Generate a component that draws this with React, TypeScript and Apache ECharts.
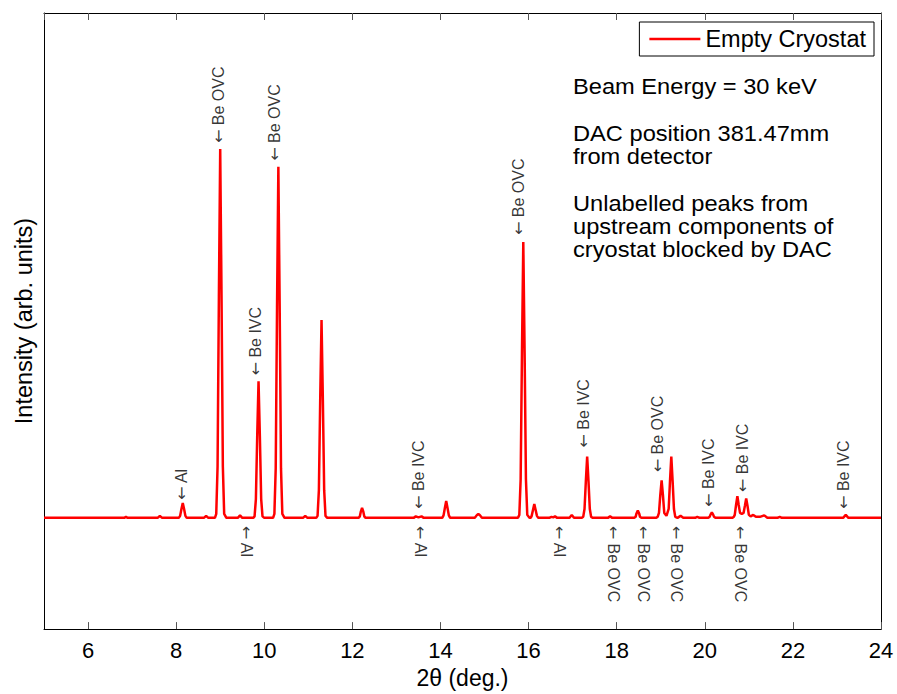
import React, { useEffect, useRef } from 'react';
import * as echarts from 'echarts';

const FONT = '"Liberation Sans", Arial, Helvetica, sans-serif';
const ARROW_FONT = '"DejaVu Sans", sans-serif';

const seriesName = 'Empty Cryostat';
const xAxisName = '2θ (deg.)';
const yAxisName = 'Intensity (arb. units)';

// [2θ (deg.), intensity (arb. units, baseline = 0)]
const spectrum: [number, number][] = [
  [5.0, 0],
  [6.82, 0], [6.86, 1], [6.9, 0],
  [7.58, 0], [7.63, 2], [7.68, 0],
  [8.06, 0], [8.09, 2], [8.12, 9], [8.15, 15], [8.18, 9], [8.21, 2], [8.24, 0],
  [8.63, 0], [8.68, 2], [8.73, 0],
  [8.88, 0], [8.91, 4], [8.94, 52], [8.97, 224], [9.0, 373], [9.03, 224], [9.06, 52], [9.09, 4], [9.14, 0],
  [9.4, 0], [9.45, 2.5], [9.5, 0],
  [9.75, 0], [9.78, 1.5], [9.81, 19], [9.84, 83], [9.87, 138], [9.9, 83], [9.93, 19], [9.96, 1.5], [10.0, 0],
  [10.2, 0], [10.23, 4], [10.26, 50], [10.29, 213], [10.32, 355], [10.35, 213], [10.38, 50], [10.41, 4], [10.46, 0],
  [10.88, 0], [10.93, 2], [10.98, 0],
  [11.18, 0], [11.21, 2], [11.24, 28], [11.27, 120], [11.3, 200], [11.33, 120], [11.36, 28], [11.39, 2], [11.43, 0],
  [12.14, 0], [12.17, 1.5], [12.19, 6], [12.22, 10], [12.25, 6], [12.27, 1.5], [12.3, 0],
  [13.39, 0], [13.44, 1.5], [13.5, 0.5], [13.57, 1.5], [13.62, 0],
  [14.04, 0], [14.07, 2.5], [14.1, 10], [14.13, 17], [14.16, 10], [14.19, 2.5], [14.22, 0],
  [14.78, 0], [14.83, 3], [14.86, 4], [14.89, 3], [14.94, 0],
  [15.76, 0], [15.79, 3], [15.82, 39], [15.85, 167], [15.88, 279], [15.91, 167], [15.94, 39], [15.97, 3], [16.02, 0],
  [16.05, 0], [16.07, 2], [16.1, 8], [16.13, 14], [16.16, 8], [16.19, 2], [16.22, 0],
  [16.47, 0], [16.52, 1], [16.56, 0.5], [16.6, 1.5], [16.65, 0],
  [16.93, 0], [16.98, 3], [17.03, 0],
  [17.21, 0], [17.24, 1], [17.27, 9], [17.3, 37], [17.33, 62], [17.36, 37], [17.39, 9], [17.42, 1], [17.46, 0],
  [17.8, 0], [17.85, 1.5], [17.9, 0],
  [18.4, 0], [18.43, 1], [18.45, 4.5], [18.48, 7.5], [18.51, 4.5], [18.53, 1], [18.56, 0],
  [18.9, 0], [18.93, 1], [18.96, 5], [18.99, 23], [19.02, 38], [19.05, 23], [19.08, 5], [19.13, 2],
  [19.18, 9], [19.21, 37], [19.24, 62], [19.27, 37], [19.3, 9], [19.33, 1], [19.38, 0],
  [19.45, 2], [19.51, 0],
  [19.78, 0], [19.83, 1], [19.88, 0],
  [20.08, 0], [20.11, 1], [20.13, 3.3], [20.16, 5.5], [20.19, 3.3], [20.21, 1], [20.24, 0],
  [20.63, 0], [20.66, 1], [20.68, 3], [20.71, 13], [20.74, 22], [20.77, 13], [20.8, 5], [20.84, 4],
  [20.88, 5], [20.91, 12], [20.94, 19.5], [20.97, 12], [21.0, 3], [21.04, 1.5], [21.1, 3], [21.16, 1],
  [21.25, 1], [21.35, 2.5], [21.42, 0],
  [21.65, 0], [21.7, 1], [21.75, 0],
  [23.14, 0], [23.2, 3], [23.26, 0],
  [24.0, 0],
];

// peak labels above the trace (arrow points down to the peak)
const aboveX = [8.11, 8.97, 9.8, 10.23, 13.51, 15.78, 17.24, 18.92, 20.09, 20.85, 23.15];
const aboveY = [18, 379, 144, 361, 9, 286, 71, 46, 11, 26, 9];
const aboveText = ['Al', 'Be OVC', 'Be IVC', 'Be OVC', 'Be IVC', 'Be OVC', 'Be IVC', 'Be OVC', 'Be IVC', 'Be IVC', 'Be IVC'];

// peak labels below the trace (arrow points up)
const belowX = [9.59, 13.55, 16.71, 17.92, 18.61, 19.36, 20.82];
const belowY = [-8, -8, -8, -8, -8, -8, -8];
const belowText = ['Al', 'Al', 'Al', 'Be OVC', 'Be OVC', 'Be OVC', 'Be OVC'];

const infoLines = [
  'Beam Energy = 30 keV',
  '',
  'DAC position 381.47mm',
  'from detector',
  '',
  'Unlabelled peaks from',
  'upstream components of',
  'cryostat blocked by DAC',
];

const xMin = 5;
const xMax = 24;
const yMin = -112.5;
const yMax = 510.5;

export default function App() {
  const ref = useRef<HTMLDivElement>(null);

  useEffect(() => {
    if (!ref.current) return;
    const chart = echarts.init(ref.current, null, { renderer: 'svg' });

    const axisLine = { show: true, onZero: false, lineStyle: { color: '#000', width: 1 } };
    const tick = { show: true, inside: true, length: 7, lineStyle: { color: '#555', width: 1 } };
    const annLabel = {
      show: true,
      position: 'inside',
      align: 'left',
      verticalAlign: 'middle',
      fontSize: 16,
      color: '#000',
      fontFamily: FONT,
      formatter: (p: any) => '{a|←} ' + p.data[2],
      rich: {
        a: { fontFamily: ARROW_FONT, fontSize: 16, color: '#000' },
      },
    };

    chart.setOption({
      animation: false,
      backgroundColor: '#fff',
      grid: { left: 44, right: 16, top: 13, bottom: 58, containLabel: false },
      xAxis: [
        {
          type: 'value',
          min: xMin,
          max: xMax,
          minInterval: 2,
          maxInterval: 2,
          splitNumber: 10,
          name: xAxisName,
          nameLocation: 'middle',
          nameGap: 29,
          nameTextStyle: { fontSize: 23, color: '#000', fontFamily: FONT },
          axisLine,
          axisTick: tick,
          axisLabel: { fontSize: 22, color: '#000', margin: 10, showMinLabel: false, fontFamily: FONT },
          splitLine: { show: false },
        },
        {
          type: 'value',
          position: 'top',
          min: xMin,
          max: xMax,
          minInterval: 2,
          maxInterval: 2,
          splitNumber: 10,
          axisLine,
          axisTick: tick,
          axisLabel: { show: false },
          splitLine: { show: false },
        },
      ],
      yAxis: [
        {
          type: 'value',
          min: yMin,
          max: yMax,
          name: yAxisName,
          nameLocation: 'middle',
          nameGap: 8,
          nameTextStyle: { fontSize: 23.5, color: '#000', fontFamily: FONT },
          axisLine,
          axisTick: { show: false },
          axisLabel: { show: false },
          splitLine: { show: false },
        },
        {
          type: 'value',
          position: 'right',
          min: yMin,
          max: yMax,
          axisLine,
          axisTick: { show: false },
          axisLabel: { show: false },
          splitLine: { show: false },
        },
      ],
      legend: {
        data: [seriesName],
        right: 23,
        top: 22,
        icon: 'rect',
        itemWidth: 51,
        itemHeight: 2.5,
        itemGap: 6,
        padding: [5, 8, 5, 10],
        borderColor: '#000',
        borderWidth: 1,
        backgroundColor: '#fff',
        textStyle: { fontSize: 23.5, color: '#000', fontFamily: FONT },
      },
      series: [
        {
          type: 'line',
          name: seriesName,
          data: spectrum,
          showSymbol: false,
          symbol: 'none',
          lineStyle: { color: '#ff0000', width: 2.5 },
          itemStyle: { color: '#ff0000' },
          z: 3,
        },
        {
          type: 'scatter',
          name: 'above',
          data: aboveX.map((x, i) => [x, aboveY[i], aboveText[i]]),
          symbolSize: 1,
          itemStyle: { color: 'rgba(0,0,0,0)' },
          silent: true,
          label: { ...annLabel, rotate: 90 },
          z: 4,
        },
        {
          type: 'scatter',
          name: 'below',
          data: belowX.map((x, i) => [x, belowY[i], belowText[i]]),
          symbolSize: 1,
          itemStyle: { color: 'rgba(0,0,0,0)' },
          silent: true,
          label: { ...annLabel, rotate: -90 },
          z: 4,
        },
      ],
      graphic: [
        {
          type: 'text',
          x: 573,
          y: 75.4,
          scaleX: 1.1,
          style: {
            text: infoLines.join('\n'),
            fontSize: 21.5,
            lineHeight: 23.3,
            fill: '#000',
            fontFamily: FONT,
          },
        },
      ],
    });

    return () => chart.dispose();
  }, []);

  return <div ref={ref} style={{ position: 'fixed', left: 0, top: 0, width: 897, height: 694 }} />;
}
